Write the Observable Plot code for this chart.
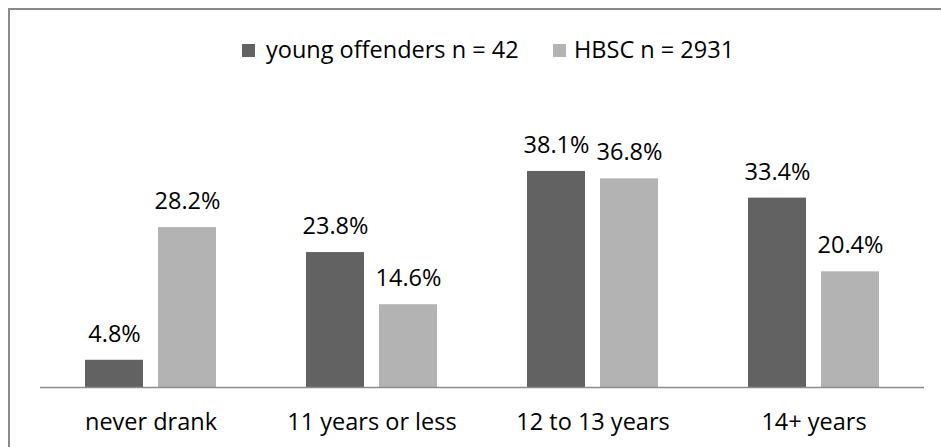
<!DOCTYPE html>
<html>
<head>
<meta charset="utf-8">
<script src="https://cdn.jsdelivr.net/npm/d3@7"></script>
<script src="https://cdn.jsdelivr.net/npm/@observablehq/plot@0.6"></script>
<style>
  html, body { margin: 0; padding: 0; background: #fff; }
  body { width: 941px; height: 447px; position: relative; overflow: hidden; font-family: "Open Sans", sans-serif; }
  #frame { position: absolute; left: 8px; top: 8px; width: 940px; height: 445px; border-top: 2px solid #8a8a8a; border-left: 2px solid #8a8a8a; box-sizing: border-box; }
  #chart { position: absolute; left: 0; top: 0; }
  #legend { position: absolute; top: 37px; left: 0; width: 941px; height: 24px; font-size: 23.5px; line-height: 24px; color: #000; }
  .sw { position: absolute; width: 13px; height: 13px; top: 7px; }
  .lab { position: absolute; top: 0; white-space: nowrap; }
</style>
</head>
<body>
<div id="frame"></div>
<div id="chart"></div>
<div id="legend"></div>
<script>
const categories = ["never drank", "11 years or less", "12 to 13 years", "14+ years"];
const seriesNames = ["young offenders n = 42", "HBSC n = 2931"];
const youngOffenders = [4.8, 23.8, 38.1, 33.4];
const hbsc = [28.2, 14.6, 36.8, 20.4];
const seriesColors = ["#626262", "#b3b3b3"];

const table = [];
categories.forEach((c, i) => {
  table.push({category: c, series: seriesNames[0], value: youngOffenders[i]});
  table.push({category: c, series: seriesNames[1], value: hbsc[i]});
});

const chart = Plot.plot({
  width: 941,
  height: 447,
  marginLeft: 39,
  marginRight: 17,
  marginBottom: 60,
  marginTop: 46.8,
  style: {fontFamily: "Open Sans", fontSize: "23.5px", color: "#000", background: "transparent"},
  fx: {domain: categories, padding: 0, axis: "bottom", tickSize: 0, tickPadding: 26, label: null},
  x: {domain: seriesNames, paddingInner: 0.2027, paddingOuter: 0.596, axis: null},
  y: {domain: [0, 60], axis: null},
  color: {domain: seriesNames, range: seriesColors},
  marks: [
    Plot.barY(table, {fx: "category", x: "series", y: "value", fill: "series"}),
    Plot.ruleY([0], {stroke: "#8c8c8c", strokeWidth: 1.5}),
    Plot.text(table, {fx: "category", x: "series", y: "value", text: d => d.value.toFixed(1) + "%", dy: -26, fill: "#000"})
  ]
});
document.getElementById("chart").appendChild(chart);

const legend = document.getElementById("legend");
const swX = [242, 553];
const labX = [266, 574];
seriesNames.forEach((name, i) => {
  const sw = document.createElement("div");
  sw.className = "sw";
  sw.style.left = swX[i] + "px";
  sw.style.background = seriesColors[i];
  legend.appendChild(sw);
  const lab = document.createElement("div");
  lab.className = "lab";
  lab.style.left = labX[i] + "px";
  lab.textContent = name;
  legend.appendChild(lab);
});
</script>
</body>
</html>
